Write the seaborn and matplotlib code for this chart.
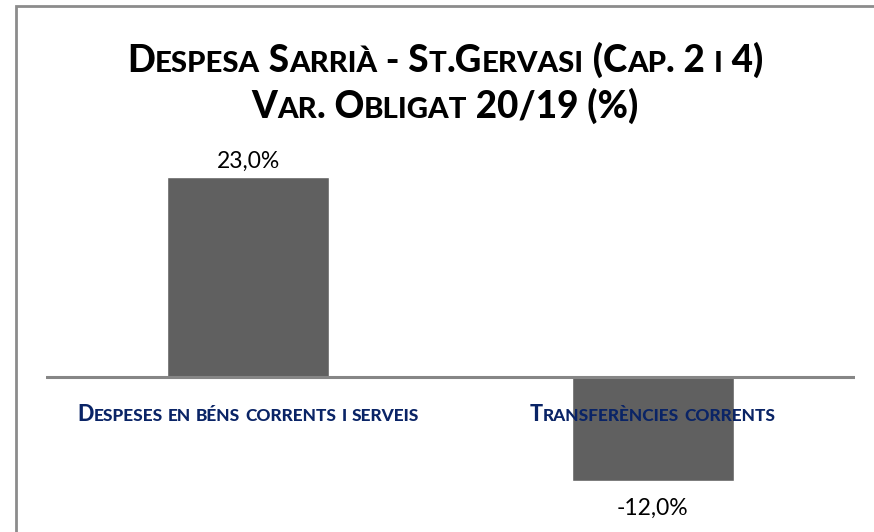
import matplotlib
matplotlib.use("Agg")
import matplotlib.pyplot as plt
from matplotlib.patches import Rectangle
from matplotlib.transforms import IdentityTransform
import seaborn as sns
import pandas as pd

# --- data -------------------------------------------------------------
categories = ["Despeses en béns corrents i serveis", "Transferències corrents"]
variation = [23.0, -12.0]
title_lines = ["Despesa Sarrià - St.Gervasi (Cap. 2 i 4)", "Var. Obligat 20/19 (%)"]

df = pd.DataFrame({"categoria": categories, "variacio": variation})

sns.set_theme(style="white")
plt.rcParams["font.family"] = ["Lato", "DejaVu Sans"]

W, H, DPI = 874, 532, 100
fig = plt.figure(figsize=(W / DPI, H / DPI), dpi=DPI)
fig.patch.set_facecolor("white")

# plot area in pixel terms (top-left origin) -> figure fractions
left_px, right_px = 46, 855
top_px, bot_px = 150, 532
ax = fig.add_axes([left_px / W, 1 - bot_px / H,
                   (right_px - left_px) / W, (bot_px - top_px) / H])

sns.barplot(data=df, x="categoria", y="variacio", color="#606060",
            saturation=1, width=0.40, ax=ax, zorder=2)

zero_px = 377
scale = (zero_px - 177) / 23.0
ax.set_ylim(-(bot_px - zero_px) / scale, (zero_px - top_px) / scale)
ax.set_xlim(-0.5, len(categories) - 0.5)
ax.axhline(0, color="#868686", lw=2.2, zorder=3)
for s in ax.spines.values():
    s.set_visible(False)
ax.set_xticks([])
ax.set_yticks([])
ax.set_xlabel("")
ax.set_ylabel("")
ax.patch.set_alpha(0)

labels = [f"{v:.1f}%".replace(".", ",") for v in variation]
anns = ax.bar_label(ax.containers[0], labels=labels, padding=6, fontsize=16.5,
                    color="black", family=["Lato", "DejaVu Sans"])
for a, v in zip(anns, variation):
    a.xyann = (0, 3.5 if v >= 0 else -12)

# chart frame
fig.patches.append(Rectangle((16 / W, -0.05), 1.0, 1 - 6 / H + 0.05,
                             transform=fig.transFigure, fill=False,
                             edgecolor="#8c8c8c", lw=2, zorder=0))

renderer = fig.canvas.get_renderer()


def run_width(s, size, weight):
    t = fig.text(0, 0, "|" + s + "|", fontsize=size, fontweight=weight,
                 transform=IdentityTransform())
    t2 = fig.text(0, 0, "||", fontsize=size, fontweight=weight,
                  transform=IdentityTransform())
    w = t.get_window_extent(renderer).width - t2.get_window_extent(renderer).width
    t.remove()
    t2.remove()
    return w


def small_caps(s, cx, y_top, size, color, weight=900, ratio=0.8):
    """Draw s centred at pixel cx with baseline at pixel y_top (from top)."""
    runs = []
    for ch in s:
        small = ch.islower()
        piece = ch.upper() if small else ch
        if runs and runs[-1][1] == small:
            runs[-1][0] += piece
        else:
            runs.append([piece, small])
    widths = [run_width(r, size * ratio if sm else size, weight) for r, sm in runs]
    x = cx - sum(widths) / 2
    y = H - y_top
    for (r, sm), w in zip(runs, widths):
        fig.text(x, y, r, fontsize=size * ratio if sm else size,
                 fontweight=weight, color=color, ha="left", va="baseline",
                 transform=IdentityTransform())
        x += w


small_caps(title_lines[0], 445, 72, 26.5, "black")
small_caps(title_lines[1], 445, 118, 26.5, "black")

for i, cat in enumerate(categories):
    cx = ax.transData.transform((i, 0))[0]
    small_caps(cat, cx, 421, 15.5, "#0a2466")

fig.savefig("out.png", dpi=DPI, facecolor="white")
